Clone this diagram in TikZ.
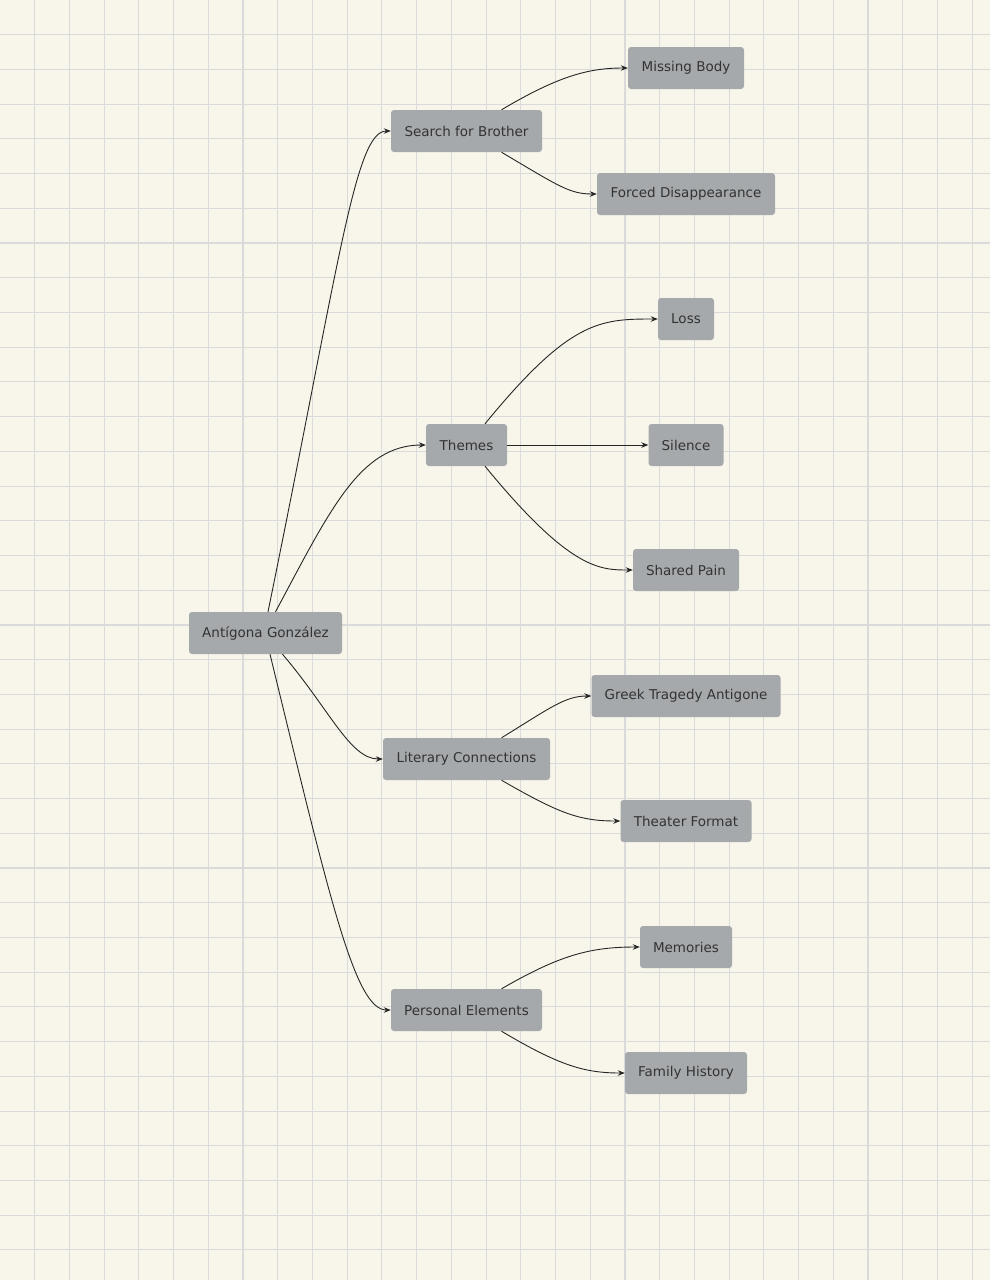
\documentclass[tikz,border=0pt]{standalone}
\usepackage{fontspec}
\setmainfont{DejaVu Sans}
\usetikzlibrary{arrows.meta}
\definecolor{bg}{HTML}{F8F6EA}
\definecolor{gridc}{HTML}{DADADA}
\definecolor{boxc}{HTML}{A6A9AB}
\definecolor{txt}{HTML}{333333}
\begin{document}
\begin{tikzpicture}[x=1pt,y=-1pt,
  box/.style={fill=boxc,rounded corners=3pt,minimum height=42pt,inner xsep=13pt,text=txt,font=\fontsize{13.5}{16}\selectfont},
  link/.style={draw=black!85,line width=0.9pt,-{Stealth[length=7pt,width=5.5pt]}}]
\fill[bg] (0,0) rectangle (990,1280);
\useasboundingbox (0,0) rectangle (990,1280);
\foreach \i in {1,...,28} {\draw[gridc,line width=1.1pt] (\i*34.72,0) -- (\i*34.72,1280);}
\foreach \i in {1,...,36} {\draw[gridc,line width=1.1pt] (0,\i*34.72) -- (990,\i*34.72);}
\node[box,minimum width=153pt] (root) at (265.5,633) {Antígona González};
\node[box,minimum width=151pt] (search) at (466.5,131) {Search for Brother};
\node[box,minimum width=116pt] (missing) at (686,68) {Missing Body};
\node[box,minimum width=178pt] (forced) at (686,194) {Forced Disappearance};
\node[box,minimum width=56pt] (loss) at (686,319) {Loss};
\node[box,minimum width=81pt] (themes) at (466.5,445) {Themes};
\node[box,minimum width=75pt] (silence) at (686,445) {Silence};
\node[box,minimum width=106pt] (shared) at (686,570) {Shared Pain};
\node[box,minimum width=189pt] (greek) at (686,696) {Greek Tragedy Antigone};
\node[box,minimum width=167pt] (lit) at (466.5,759) {Literary Connections};
\node[box,minimum width=131pt] (theater) at (686,821) {Theater Format};
\node[box,minimum width=92pt] (mem) at (686,947) {Memories};
\node[box,minimum width=151pt] (pers) at (466.5,1010) {Personal Elements};
\node[box,minimum width=122pt] (fam) at (686,1073) {Family History};
% root edges
\draw[link] ([xshift=2.5pt]root.north) .. controls (340,260) and (355,131) .. (search.west);
\draw[link] ([xshift=10pt]root.north) .. controls (330,510) and (360,445) .. (themes.west);
\draw[link] ([xshift=17pt]root.south) .. controls (330,710) and (350,759) .. (lit.west);
\draw[link] ([xshift=4.5pt]root.south) .. controls (330,900) and (355,1010) .. (pers.west);
% branches
\draw[link] ([xshift=35pt]search.north) .. controls (560,75) and (590,68) .. (missing.west);
\draw[link] ([xshift=35pt]search.south) .. controls (560,187) and (570,194) .. (forced.west);
\draw[link] ([xshift=18.5pt]themes.north) .. controls (570,320) and (600,319) .. (loss.west);
\draw[link] (themes.east) -- (silence.west);
\draw[link] ([xshift=18.5pt]themes.south) .. controls (570,570) and (600,570) .. (shared.west);
\draw[link] ([xshift=35pt]lit.north) .. controls (550,708) and (565,696) .. (greek.west);
\draw[link] ([xshift=35pt]lit.south) .. controls (560,814) and (580,821) .. (theater.west);
\draw[link] ([xshift=35pt]pers.north) .. controls (560,955) and (590,947) .. (mem.west);
\draw[link] ([xshift=35pt]pers.south) .. controls (560,1066) and (585,1073) .. (fam.west);
\end{tikzpicture}
\end{document}
